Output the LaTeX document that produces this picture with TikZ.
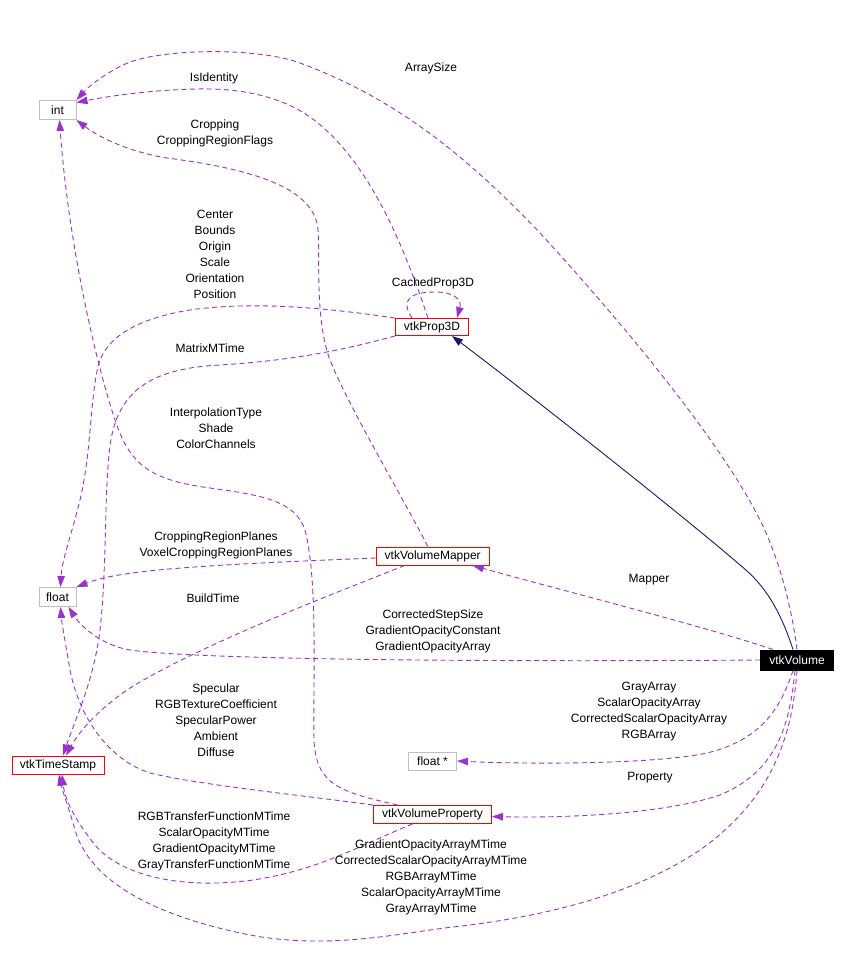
\documentclass[tikz,border=0pt]{standalone}
\usepackage{fontspec}
\setmainfont{Liberation Sans}
\usetikzlibrary{arrows.meta,calc}
\definecolor{edgepurple}{HTML}{9A32CD}
\definecolor{inhblue}{HTML}{191970}
\definecolor{boxgray}{HTML}{BFBFBF}
\definecolor{boxred}{HTML}{FF0000}
\begin{document}
\begin{tikzpicture}[x=1pt,y=-1pt,
  every node/.style={font=\fontsize{12}{16}\selectfont, inner sep=0pt},
  classbox/.style={draw, rectangle, line width=1pt, minimum height=18pt},
  graybox/.style={classbox, draw=boxgray},
  redbox/.style={classbox, draw=boxred},
  mainbox/.style={classbox, draw=black, fill=black, text=white, minimum height=20pt},
  lbl/.style={align=center},
  uses/.style={draw=edgepurple, line width=0.9pt, dash pattern=on 5pt off 3.5pt,
    -{Triangle[length=11pt,width=7.5pt,fill=edgepurple]}},
  inherits/.style={draw=inhblue, line width=0.9pt,
    -{Triangle[length=11pt,width=7.5pt,fill=inhblue]}}
]
\useasboundingbox (0,0) rectangle (848,976);
\fill[white] (0,0) rectangle (848,976);

% nodes
\node[graybox, minimum width=37pt, minimum height=19pt] (int) at (57.5,110) {int};
\node[graybox, minimum width=37pt, minimum height=19pt] (fl) at (57.5,597) {float};
\node[redbox, minimum width=92pt] (ts) at (58,765) {vtkTimeStamp};
\node[redbox, minimum width=73pt, minimum height=17pt] (p3d) at (432,327) {vtkProp3D};
\node[redbox, minimum width=113pt] (vm) at (432.7,556) {vtkVolumeMapper};
\node[graybox, minimum width=48pt] (fs) at (432.5,761) {float *};
\node[redbox, minimum width=118pt] (vp) at (432.5,814.5) {vtkVolumeProperty};
\node[mainbox, minimum width=73pt] (vol) at (797,660) {vtkVolume};

% inheritance
\draw[inherits] ([xshift=-4pt]vol.north) .. controls (780,610) and (765,585) .. (740,565)
  .. controls (700,530) and (560,418) .. ([xshift=20pt]p3d.south);

% vtkVolume -> int : ArraySize
\draw[uses] (vol.north) .. controls (792,610) and (780,560) .. (760,520)
  .. controls (720,440) and (620,320) .. (540,233)
  .. controls (470,160) and (400,100) .. (300,63)
  .. controls (260,48) and (170,48) .. (130,62)
  .. controls (110,70) and (90,85) .. (int.north east);

% vtkProp3D -> int : IsIdentity
\draw[uses] ([xshift=-4pt]p3d.north) .. controls (405,250) and (370,160) .. (310,117)
  .. controls (280,96) and (240,88) .. (197,89)
  .. controls (150,90) and (110,96) .. ([yshift=-2.5pt]int.north east);

% vtkVolumeMapper -> int : Cropping
\draw[uses] ([xshift=-5pt]vm.north) .. controls (410,510) and (350,410) .. (330,360)
  .. controls (315,320) and (320,260) .. (318,230)
  .. controls (315,190) and (260,170) .. (167,158)
  .. controls (130,152) and (100,138) .. (int.south east);

% vtkVolumeProperty -> int : InterpolationType
\draw[uses] ([xshift=-35pt]vp.north) .. controls (340,792) and (316,785) .. (314,740)
  .. controls (313,680) and (318,580) .. (305,530)
  .. controls (295,500) and (260,495) .. (210,488)
  .. controls (150,480) and (130,465) .. (115,420)
  .. controls (95,360) and (68,240) .. ([xshift=2pt]int.south);

% vtkProp3D -> float : Center ...
\draw[uses] (p3d.north west) .. controls (340,310) and (260,300) .. (190,310)
  .. controls (140,318) and (110,335) .. (100,360)
  .. controls (90,390) and (92,450) .. (80,500)
  .. controls (70,540) and (62,560) .. ([xshift=3pt]fl.north);

% vtkProp3D -> vtkTimeStamp : MatrixMTime
\draw[uses] (p3d.south west) .. controls (350,348) and (300,360) .. (220,365)
  .. controls (160,368) and (125,385) .. (113,430)
  .. controls (103,470) and (108,560) .. (100,630)
  .. controls (94,680) and (75,720) .. ([xshift=5pt]ts.north);

% vtkVolumeMapper -> float : CroppingRegionPlanes
\draw[uses] ([yshift=-2pt]vm.west) .. controls (200,565) and (120,570) .. (fl.north east);

% vtkVolumeMapper -> vtkTimeStamp : BuildTime
\draw[uses] ([xshift=-28pt]vm.south) .. controls (330,595) and (200,645) .. (130,688)
  .. controls (100,708) and (80,730) .. ([xshift=8pt]ts.north);

% vtkVolume -> float : CorrectedStepSize
\draw[uses] (vol.west) .. controls (500,662) and (200,660) .. (130,650)
  .. controls (100,645) and (80,625) .. ([xshift=-8pt]fl.south east);

% vtkVolumeProperty -> float : Specular
\draw[uses] (vp.north west) .. controls (300,795) and (200,785) .. (150,773)
  .. controls (110,760) and (80,720) .. (70,670)
  .. controls (65,640) and (62,625) .. ([xshift=3pt]fl.south);

% vtkVolumeProperty -> vtkTimeStamp : RGBTransferFunctionMTime
\draw[uses] ([xshift=-20pt]vp.south) .. controls (360,845) and (320,870) .. (253,880)
  .. controls (180,890) and (120,875) .. (95,845)
  .. controls (75,820) and (65,800) .. ([xshift=4pt]ts.south);

% vtkVolume -> vtkTimeStamp : GradientOpacityArrayMTime
\draw[uses] (vol.south) .. controls (792,740) and (770,800) .. (700,850)
  .. controls (640,890) and (560,915) .. (453,927)
  .. controls (400,933) and (330,950) .. (250,935)
  .. controls (150,915) and (90,880) .. (75,830)
  .. controls (68,805) and (62,790) .. ([xshift=1pt]ts.south);

% vtkVolume -> vtkVolumeMapper : Mapper
\draw[uses] ([xshift=-24pt]vol.north) .. controls (700,625) and (560,590) .. ([xshift=40pt]vm.south);

% vtkVolume -> float * : GrayArray
\draw[uses] ([xshift=-4pt]vol.south) .. controls (780,710) and (760,740) .. (707,753)
  .. controls (650,765) and (520,764) .. (fs.east);

% vtkVolume -> vtkVolumeProperty : Property
\draw[uses] ([xshift=-2pt]vol.south) .. controls (790,720) and (780,770) .. (720,795)
  .. controls (660,815) and (560,818) .. ([yshift=-2pt]vp.east);

% self loop : CachedProp3D
\draw[uses] ([xshift=-20pt]p3d.north) .. controls (400,300) and (410,292) .. (435,292)
  .. controls (455,292) and (462,300) .. ([xshift=25pt]p3d.north);

% labels
\node[lbl] (lArraySize) at (431,68) {ArraySize};
\node[lbl] (lIsIdentity) at (214,78) {IsIdentity};
\node[lbl] (lCropping) at (215,133) {Cropping\\CroppingRegionFlags};
\node[lbl] (lCenter) at (215,254) {Center\\Bounds\\Origin\\Scale\\Orientation\\Position};
\node[lbl] (lCached) at (433,283) {CachedProp3D};
\node[lbl] (lMatrix) at (210,348) {MatrixMTime};
\node[lbl] (lInterp) at (216,428) {InterpolationType\\Shade\\ColorChannels};
\node[lbl] (lCRP) at (216,545) {CroppingRegionPlanes\\VoxelCroppingRegionPlanes};
\node[lbl] (lBuild) at (213,598) {BuildTime};
\node[lbl] (lMapper) at (649,580) {Mapper};
\node[lbl] (lCSS) at (433,631) {CorrectedStepSize\\GradientOpacityConstant\\GradientOpacityArray};
\node[lbl] (lSpec) at (216,720) {Specular\\RGBTextureCoefficient\\SpecularPower\\Ambient\\Diffuse};
\node[lbl] (lGray) at (649,712) {GrayArray\\ScalarOpacityArray\\CorrectedScalarOpacityArray\\RGBArray};
\node[lbl] (lProp) at (650,778) {Property};
\node[lbl] (lRGBT) at (214,841) {RGBTransferFunctionMTime\\ScalarOpacityMTime\\GradientOpacityMTime\\GrayTransferFunctionMTime};
\node[lbl] (lGOAM) at (431,877) {GradientOpacityArrayMTime\\CorrectedScalarOpacityArrayMTime\\RGBArrayMTime\\ScalarOpacityArrayMTime\\GrayArrayMTime};
\end{tikzpicture}
\end{document}
